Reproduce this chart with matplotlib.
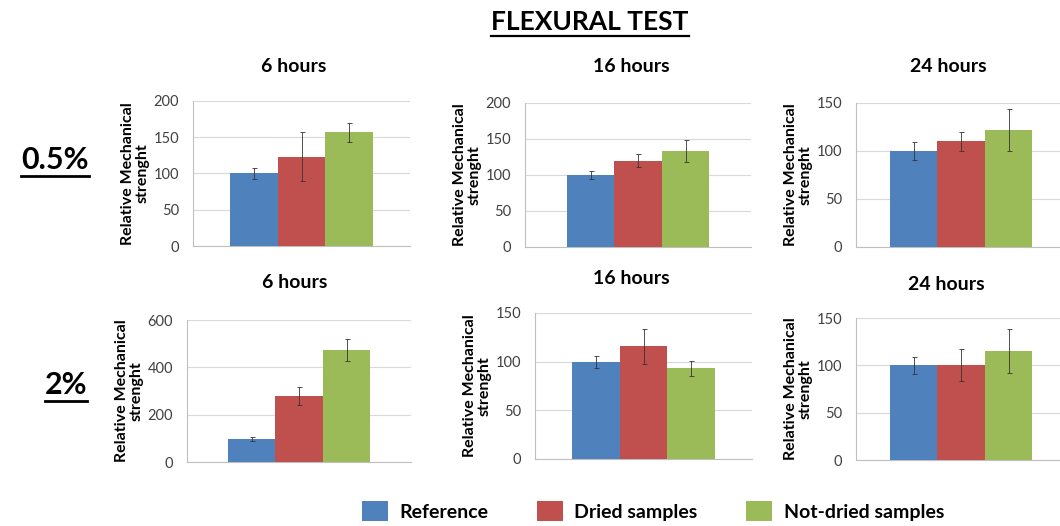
import matplotlib
matplotlib.use("Agg")
import matplotlib.pyplot as plt
from matplotlib.lines import Line2D
from matplotlib.patches import Patch

plt.rcParams['font.family'] = ['Lato', 'DejaVu Sans']

# data
series = ["Reference", "Dried samples", "Not-dried samples"]
colors = ["#4F81BD", "#C0504D", "#9BBB59"]
titles = ["6 hours", "16 hours", "24 hours"]
row_labels = ["0.5%", "2%"]

# row 0 = 0.5%, row 1 = 2%
values = [
    [[100, 123, 157], [100, 120, 133], [100, 110, 122]],
    [[97, 280, 472], [100, 116, 93], [100, 100, 115]],
]
errors = [
    [[7, 34, 13], [6, 9, 15], [9, 10, 22]],
    [[9, 39, 47], [6, 18, 8], [9, 17, 23]],
]
ymax = [[200, 200, 150], [600, 150, 150]]
ystep = [[50, 50, 50], [200, 50, 50]]

W, H = 1060, 526
# axes boxes in pixels: left, top, right, bottom
boxes = [
    [(193, 101, 410, 246), (525, 103, 751, 247), (856, 103, 1066, 247)],
    [(187, 320, 411, 462), (535, 313, 752, 459), (856, 318, 1066, 460)],
]
# title centres in pixels
title_pos = [
    [(294, 67), (631, 67), (948, 67)],
    [(295, 283), (631, 279), (946, 284)],
]

fig = plt.figure(figsize=(W / 100, H / 100), dpi=100)

for r in range(2):
    for c in range(3):
        l, t, rr, b = boxes[r][c]
        ax = fig.add_axes([l / W, 1 - b / H, (rr - l) / W, (b - t) / H])
        px_per_unit = 47.5
        half = (rr - l) / px_per_unit / 2
        for i in range(3):
            ax.bar(i - 1, values[r][c][i], width=1.0, color=colors[i],
                   yerr=errors[r][c][i], capsize=1.8,
                   error_kw=dict(elinewidth=0.6, capthick=0.6, ecolor="#333333"),
                   zorder=3)
        ax.set_xlim(-half, half)
        ax.set_ylim(0, ymax[r][c])
        ax.set_yticks(range(0, ymax[r][c] + 1, ystep[r][c]))
        ax.set_xticks([])
        ax.grid(axis="y", color="#D9D9D9", linewidth=0.8, zorder=0)
        for s in ["top", "right"]:
            ax.spines[s].set_visible(False)
        ax.spines["left"].set_color("#BFBFBF")
        ax.spines["bottom"].set_color("#BFBFBF")
        ax.tick_params(axis="y", length=0, labelsize=10.5, labelcolor="#404040", pad=10)
        ax.set_ylabel("Relative Mechanical\nstrenght", fontsize=11.5, fontweight="bold",
                      linespacing=1.05, labelpad=3, multialignment="center")
        tx, ty = title_pos[r][c]
        fig.text(tx / W, 1 - ty / H, titles[c], ha="center", va="center",
                 fontsize=14, fontweight="bold")

title = fig.text(590 / W, 1 - 22 / H, "FLEXURAL TEST", ha="center", va="center",
                 fontsize=19, fontweight="bold")
lab1 = fig.text(55 / W, 1 - 160 / H, row_labels[0], ha="center", va="center",
                fontsize=22, fontweight="bold")
lab2 = fig.text(66 / W, 1 - 385 / H, row_labels[1], ha="center", va="center",
                fontsize=22, fontweight="bold")

handles = [Patch(facecolor=col) for col in colors]
fig.legend(handles, series, loc="center", bbox_to_anchor=(653 / W, 1 - 511 / H), ncol=3,
           frameon=False, handlelength=1.35, handleheight=1.25, columnspacing=2.5,
           handletextpad=0.57, borderpad=0, prop=dict(size=14, weight="bold"))

# underline the headline texts
fig.canvas.draw()
renderer = fig.canvas.get_renderer()
for txt, lw in [(title, 1.6), (lab1, 2.0), (lab2, 2.0)]:
    bb = txt.get_window_extent(renderer).transformed(fig.transFigure.inverted())
    y = bb.y0 - 0.004
    fig.add_artist(Line2D([bb.x0, bb.x1], [y, y], color="black", linewidth=lw,
                          transform=fig.transFigure))

fig.savefig("out.png", dpi=100)
